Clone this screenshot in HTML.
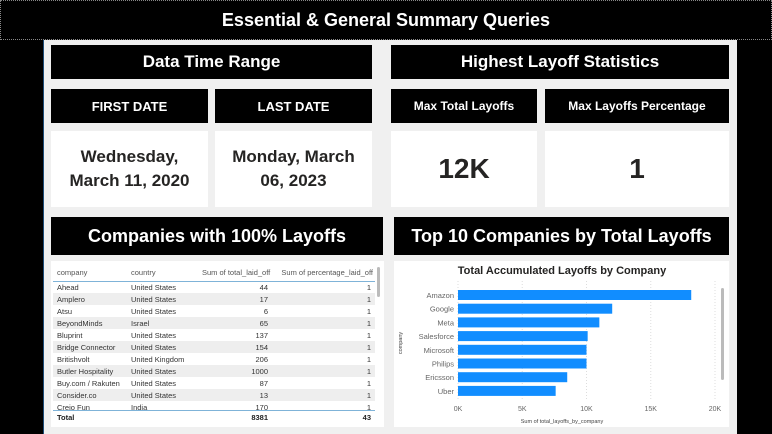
<!DOCTYPE html>
<html><head><meta charset="utf-8"><style>
*{margin:0;padding:0;box-sizing:border-box}
body{width:772px;height:434px;background:#000;position:relative;overflow:hidden;font-family:"Liberation Sans","DejaVu Sans",sans-serif}
.abs{position:absolute}
.hdr{position:absolute;background:#000;color:#fff;font-weight:bold;display:flex;align-items:center;justify-content:center;text-align:center}
.card{position:absolute;background:#fff;color:#252423;font-weight:bold;display:flex;align-items:center;justify-content:center;text-align:center}
table{border-collapse:collapse;font-size:7.5px;color:#333;table-layout:fixed}
td,th{height:12px;padding:0 4px;white-space:nowrap;overflow:hidden;font-weight:normal}
</style></head><body>
<div class="hdr" style="left:0;top:0;width:772px;height:40px;font-size:18px;border:1px dotted #888">Essential &amp; General Summary Queries</div>
<div class="abs" style="left:43px;top:40px;width:694px;height:394px;background:#f0f0f0;border-left:1px solid #1f4e79"></div>

<div class="hdr" style="left:51px;top:45px;width:321px;height:34px;font-size:17px">Data Time Range</div>
<div class="hdr" style="left:51px;top:89px;width:157px;height:34px;font-size:13px">FIRST DATE</div>
<div class="hdr" style="left:215px;top:89px;width:157px;height:34px;font-size:13px">LAST DATE</div>
<div class="card" style="left:51px;top:131px;width:157px;height:76px;font-size:17px;line-height:24px">Wednesday,<br>March 11, 2020</div>
<div class="card" style="left:215px;top:131px;width:157px;height:76px;font-size:17px;line-height:24px">Monday, March<br>06, 2023</div>

<div class="hdr" style="left:391px;top:45px;width:338px;height:34px;font-size:17px">Highest Layoff Statistics</div>
<div class="hdr" style="left:391px;top:89px;width:146px;height:34px;font-size:12px">Max Total Layoffs</div>
<div class="hdr" style="left:545px;top:89px;width:184px;height:34px;font-size:12px">Max Layoffs Percentage</div>
<div class="card" style="left:391px;top:131px;width:146px;height:76px;font-size:28px">12K</div>
<div class="card" style="left:545px;top:131px;width:184px;height:76px;font-size:28px">1</div>

<div class="hdr" style="left:51px;top:217px;width:332px;height:38px;font-size:18px">Companies with 100% Layoffs</div>
<div class="hdr" style="left:394px;top:217px;width:335px;height:38px;font-size:18px">Top 10 Companies by Total Layoffs</div>

<div class="abs" style="left:51px;top:261px;width:333px;height:166px;background:#fff;overflow:hidden">
 <div class="abs" style="left:326px;top:6px;width:3px;height:30px;background:#bbb;border-radius:2px"></div>
 <table class="abs" style="left:2px;top:3px;width:322px">
  <colgroup><col style="width:74px"><col style="width:73px"><col style="width:72px"><col style="width:103px"></colgroup>
  <tr style="height:17px;border-bottom:1px solid #7fb3d8;color:#555"><th style="text-align:left">company</th><th style="text-align:left">country</th><th style="text-align:right;padding:0 2px">Sum of total_laid_off</th><th style="text-align:right;padding:0 2px">Sum of percentage_laid_off</th></tr>
  <tbody id="tb"></tbody>
 </table>
 <div class="abs" style="left:2px;top:149px;width:322px;height:14px;border-top:1px solid #7fb3d8;font-size:7.5px;font-weight:bold;color:#222">
  <span class="abs" style="left:4px;top:2px">Total</span><span class="abs" style="right:107px;top:2px">8381</span><span class="abs" style="right:4px;top:2px">43</span>
 </div>
</div>

<div class="abs" style="left:394px;top:261px;width:335px;height:166px;background:#fff">
 <svg id="chart" width="335" height="166" style="position:absolute;left:0;top:0" font-family="Liberation Sans, sans-serif"></svg>
</div>

<script>
const rows=[["Ahead","United States",44,1],["Amplero","United States",17,1],["Atsu","United States",6,1],["BeyondMinds","Israel",65,1],["Bluprint","United States",137,1],["Bridge Connector","United States",154,1],["Britishvolt","United Kingdom",206,1],["Butler Hospitality","United States",1000,1],["Buy.com / Rakuten","United States",87,1],["Consider.co","United States",13,1],["Creio Fun","India",170,1]];
const tb=document.getElementById('tb');
rows.forEach((r,i)=>{const tr=document.createElement('tr');


if(i%2==1)tr.style.background='#eeeeee';
tr.innerHTML=`<td>${r[0]}</td><td>${r[1]}</td><td style="text-align:right">${r[2]}</td><td style="text-align:right">${r[3]}</td>`;tb.appendChild(tr);});

const companies=["Amazon","Google","Meta","Salesforce","Microsoft","Philips","Ericsson","Uber"];
const layoffs=[18150,12000,11000,10090,10000,10000,8500,7600];
const ticks=[0,5000,10000,15000,20000];
const tickLabels=["0K","5K","10K","15K","20K"];
const NS="http://www.w3.org/2000/svg",svg=document.getElementById('chart');
const x0=64,x1=321,xMax=20000;
const xs=v=>x0+(v/xMax)*(x1-x0);
const yTop=28,step=13.7,bh=10;
const ys=i=>yTop+i*step;
function mk(t,a,txt){const e=document.createElementNS(NS,t);for(const k in a)e.setAttribute(k,a[k]);if(txt!==undefined)e.textContent=txt;svg.appendChild(e);return e;}
let e=mk('text',{x:168,y:13,'text-anchor':'middle','font-size':11,'font-weight':'bold',fill:'#252423'},'Total Accumulated Layoffs by Company');


ticks.forEach((t,i)=>{
 const g=mk('line',{x1:xs(t),x2:xs(t),y1:20,y2:139,stroke:'#ddd','stroke-dasharray':'1,2'});
 
 
 const l=mk('text',{x:xs(t),y:150,'text-anchor':'middle','font-size':7,fill:'#666'},tickLabels[i]);
 
 
});
companies.forEach((c,i)=>{
 const r=mk('rect',{x:x0,y:ys(i)+1,width:xs(layoffs[i])-x0,height:bh,fill:'#118dff'});
 
 
 const l=mk('text',{x:x0-4,y:ys(i)+9,'text-anchor':'end','font-size':7.5,fill:'#666'},c);
 
 
});
e=mk('text',{x:168,y:162,'text-anchor':'middle','font-size':5.5,fill:'#444'},'Sum of total_layoffs_by_company');


e=mk('text',{x:8,y:82,'text-anchor':'middle','font-size':5.5,fill:'#444',transform:'rotate(-90 8 82)'},'company');


e=mk('rect',{x:327,y:27,width:3,height:92,fill:'#bbb',rx:1.5});


</script>
</body></html>
